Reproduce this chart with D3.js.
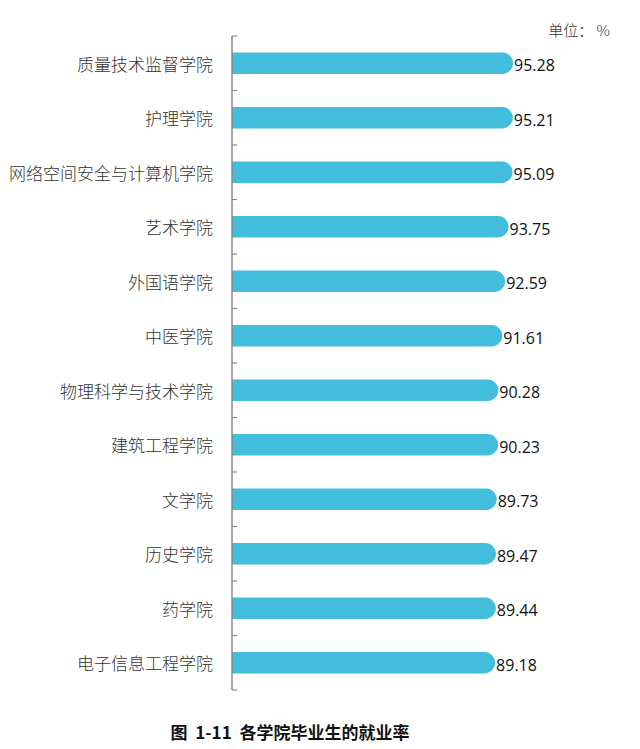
<!DOCTYPE html>
<html><head><meta charset="utf-8">
<script src="https://cdn.jsdelivr.net/npm/d3@7"></script>
<style>body{margin:0;background:#fff;}svg{display:block;}</style>
</head><body>
<svg id="c" width="640" height="749"></svg>
<script>
const categories = ["质量技术监督学院","护理学院","网络空间安全与计算机学院","艺术学院","外国语学院","中医学院","物理科学与技术学院","建筑工程学院","文学院","历史学院","药学院","电子信息工程学院"];
const values = [95.28,95.21,95.09,93.75,92.59,91.61,90.28,90.23,89.73,89.47,89.44,89.18];
const unitLabel = "单位： %";
const titleText = "图  1-11  各学院毕业生的就业率";

const svg = d3.select("#c");
const x = d3.scaleLinear().domain([0,100]).range([232, 527]);
const y = d3.scaleBand().domain(categories).range([36, 690]).paddingInner(0.61).paddingOuter(0.305);
const yb = d3.scaleBand().domain(categories).range([36, 690]);

const r = y.bandwidth()/2;
svg.append("g").selectAll("path").data(categories).join("path")
  .attr("fill", "#42BDDB")
  .attr("d", (c,i) => {
    const x0 = x(0), x1 = x(values[i]), y0 = y(c), h = y.bandwidth();
    return `M${x0},${y0}H${x1-r}A${r},${r} 0 0 1 ${x1},${y0+r}A${r},${r} 0 0 1 ${x1-r},${y0+h}H${x0}Z`;
  });

const ax = svg.append("g").attr("transform", `translate(${x(0)},0)`);
ax.append("line").attr("y1", 36).attr("y2", 690).attr("stroke", "#8a8a8a").attr("stroke-width", 1.5);
const ticks = categories.map(c => yb(c)).concat([690]);
ax.selectAll("line.t").data(ticks).join("line").attr("class","t")
  .attr("x1", 0).attr("x2", 5).attr("y1", d => d).attr("y2", d => d)
  .attr("stroke", "#8a8a8a").attr("stroke-width", 1.2);

svg.append("g").selectAll("text").data(categories).join("text")
  .attr("x", 213).attr("y", c => y(c) + y.bandwidth()/2)
  .attr("text-anchor", "end").attr("dominant-baseline", "central")
  .attr("font-family", "'Noto Sans CJK SC', sans-serif").attr("font-size", 17).attr("font-weight", 300)
  .attr("fill", "#333").text(c => c);

svg.append("g").selectAll("text").data(categories).join("text")
  .attr("x", (c,i) => x(values[i]) + 1).attr("y", c => y(c) + y.bandwidth()/2 + 2)
  .attr("dominant-baseline", "central")
  .attr("font-family", "'Open Sans', sans-serif").attr("font-size", 16)
  .attr("fill", "#111").text((c,i) => values[i].toFixed(2));

svg.append("text").attr("x", 610).attr("y", 36).attr("text-anchor","end")
  .attr("font-family", "'Noto Sans CJK SC', sans-serif").attr("font-size", 15).attr("font-weight", 300)
  .attr("fill", "#333").attr("xml:space","preserve").style("white-space","pre").text(unitLabel);

svg.append("text").attr("x", 290).attr("y", 739).attr("text-anchor","middle")
  .attr("font-family", "'Noto Sans CJK SC', sans-serif").attr("font-size", 17).attr("font-weight","bold")
  .attr("fill", "#111").attr("xml:space","preserve").style("white-space","pre").text(titleText);
</script>
</body></html>
